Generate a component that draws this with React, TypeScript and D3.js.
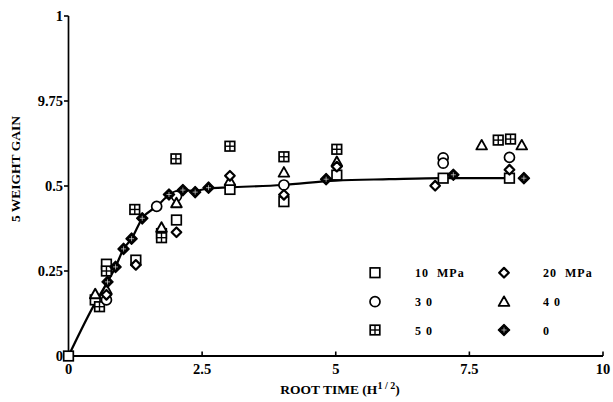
import React from "react";
import * as d3 from "d3";

const W = 613;
const H = 402;

// Y ticks (labels as printed in the reference)
const yTickValues = [0, 0.25, 0.5, 0.75, 1];
const yTickLabels = ["0", "0.25", "0.5", "9.75", "1"];
const xTickValues = [0, 2.5, 5, 7.5, 10];
const xTickLabels = ["0", "2.5", "5", "7.5", "10"];

// fitted curve
const curveX = [0, 0.53, 0.73, 0.88, 1.03, 1.18, 1.38, 1.65, 1.88, 2.14, 2.37, 2.62, 3.0, 4.0, 5.0, 6.0, 7.0, 8.15];
const curveY = [0, 0.165, 0.218, 0.262, 0.315, 0.345, 0.405, 0.44, 0.473, 0.487, 0.486, 0.493, 0.496, 0.503, 0.516, 0.52, 0.523, 0.523];

// 10 MPa (square)
const s10X = [0, 0.5, 0.71, 1.26, 1.74, 2.02, 3.02, 4.03, 5.02, 7.01, 8.25];
const s10Y = [0, 0.165, 0.27, 0.282, 0.36, 0.4, 0.49, 0.454, 0.532, 0.523, 0.523];
// 20 MPa (diamond)
const s20X = [0.71, 1.26, 2.02, 3.02, 4.03, 5.02, 6.86, 8.25];
const s20Y = [0.18, 0.268, 0.364, 0.53, 0.474, 0.557, 0.501, 0.548];
// 30 MPa (circle)
const s30X = [0.71, 1.65, 2.02, 4.03, 7.01, 7.01, 8.25];
const s30Y = [0.165, 0.44, 0.47, 0.503, 0.583, 0.567, 0.584];
// 40 MPa (triangle)
const s40X = [0.5, 0.71, 1.74, 2.02, 3.02, 4.03, 5.02, 7.73, 8.48];
const s40Y = [0.182, 0.195, 0.378, 0.45, 0.515, 0.54, 0.571, 0.62, 0.62];
// 50 MPa (grid square)
const s50X = [0.58, 0.71, 1.24, 1.74, 2.01, 3.02, 4.03, 5.02, 8.04, 8.27];
const s50Y = [0.145, 0.25, 0.431, 0.348, 0.58, 0.617, 0.586, 0.608, 0.635, 0.638];
// 0 MPa (filled crossed diamond)
const s0X = [0.73, 0.88, 1.03, 1.18, 1.38, 1.88, 2.14, 2.37, 2.62, 4.82, 7.2, 8.52];
const s0Y = [0.218, 0.262, 0.315, 0.345, 0.405, 0.475, 0.488, 0.482, 0.495, 0.52, 0.533, 0.523];

const legendLabels = ["10  MPa", "20  MPa", "3 0", "4 0", "5 0", "0"];
const legendShapes = ["square", "diamond", "circle", "triangle", "grid", "cross"];

const FONT = "'Liberation Serif', 'DejaVu Serif', serif";

function Marker({ shape, cx, cy }: { shape: string; cx: number; cy: number }) {
  const sw = 1.7;
  if (shape === "square") {
    return <rect x={cx - 4.8} y={cy - 4.8} width={9.6} height={9.6} fill="#fff" stroke="#000" strokeWidth={sw} />;
  }
  if (shape === "circle") {
    return <circle cx={cx} cy={cy} r={5} fill="#fff" stroke="#000" strokeWidth={sw} />;
  }
  if (shape === "diamond") {
    const r = 4.8;
    return (
      <path
        d={`M${cx},${cy - r}L${cx + r},${cy}L${cx},${cy + r}L${cx - r},${cy}Z`}
        fill="#fff"
        stroke="#000"
        strokeWidth={2.2}
        strokeLinejoin="round"
      />
    );
  }
  if (shape === "triangle") {
    return (
      <path
        d={`M${cx},${cy - 5.3}L${cx + 5.3},${cy + 4.2}L${cx - 5.3},${cy + 4.2}Z`}
        fill="#fff"
        stroke="#000"
        strokeWidth={1.9}
        strokeLinejoin="round"
      />
    );
  }
  if (shape === "grid") {
    return (
      <g>
        <rect x={cx - 4.8} y={cy - 4.8} width={9.6} height={9.6} fill="#fff" stroke="#000" strokeWidth={sw} />
        <line x1={cx} x2={cx} y1={cy - 4.8} y2={cy + 4.8} stroke="#000" strokeWidth={1.4} />
        <line x1={cx - 4.8} x2={cx + 4.8} y1={cy} y2={cy} stroke="#000" strokeWidth={1.4} />
      </g>
    );
  }
  // cross (filled diamond with light cross)
  const r = 5.6;
  return (
    <g>
      <path
        d={`M${cx},${cy - r}L${cx + r},${cy}L${cx},${cy + r}L${cx - r},${cy}Z`}
        fill="#000"
        stroke="#000"
        strokeWidth={1.4}
        strokeLinejoin="round"
      />
      <line x1={cx - 2.5} x2={cx + 2.5} y1={cy} y2={cy} stroke="#fff" strokeWidth={0.6} />
      <line x1={cx} x2={cx} y1={cy - 2.5} y2={cy + 2.5} stroke="#fff" strokeWidth={0.6} />
    </g>
  );
}

export default function App() {
  const x = d3.scaleLinear().domain([0, 10]).range([68.5, 603]);
  const y = d3.scaleLinear().domain([0, 1]).range([356, 16]);

  const curvePts: [number, number][] = curveX.map((v, i) => [x(v), y(curveY[i])]);
  const lineGen = d3.line().curve(d3.curveMonotoneX);
  const curvePath = lineGen(curvePts) || "";

  const series = [
    { shape: "square", xs: s10X, ys: s10Y },
    { shape: "grid", xs: s50X, ys: s50Y },
    { shape: "circle", xs: s30X, ys: s30Y },
    { shape: "triangle", xs: s40X, ys: s40Y },
    { shape: "diamond", xs: s20X, ys: s20Y },
    { shape: "cross", xs: s0X, ys: s0Y },
  ];

  const legendRowsY = [272.7, 301.7, 330];
  const legendColMarkerX = [375, 504];
  const legendColTextX = [415, 543];

  return (
    <svg
      width={W}
      height={H}
      viewBox={`0 0 ${W} ${H}`}
      style={{ position: "absolute", left: 0, top: 0, background: "#fff" }}
    >
      <rect x={0} y={0} width={W} height={H} fill="#fff" />
      {/* axes */}
      <line x1={x(0)} x2={x(0)} y1={y(0)} y2={y(1)} stroke="#000" strokeWidth={1.7} />
      <line x1={x(0)} x2={x(10)} y1={y(0)} y2={y(0)} stroke="#000" strokeWidth={1.9} />
      {yTickValues.map((v, i) => (
        <g key={"yt" + i}>
          <line x1={x(0) - 4.5} x2={x(0)} y1={y(v)} y2={y(v)} stroke="#000" strokeWidth={1.6} />
          <text
            x={63}
            y={y(v) + 5}
            textAnchor="end"
            fontFamily={FONT}
            fontWeight="bold"
            fontSize={14.5}
            fill="#000"
          >
            {yTickLabels[i]}
          </text>
        </g>
      ))}
      {xTickValues.map((v, i) => (
        <g key={"xt" + i}>
          <line x1={x(v)} x2={x(v)} y1={y(0)} y2={y(0) - 4.5} stroke="#000" strokeWidth={1.6} />
          <text
            x={x(v)}
            y={374}
            textAnchor="middle"
            fontFamily={FONT}
            fontWeight="bold"
            fontSize={14.5}
            fill="#000"
          >
            {xTickLabels[i]}
          </text>
        </g>
      ))}
      {/* axis titles */}
      <text
        transform={`translate(20,169) rotate(-90)`}
        textAnchor="middle"
        fontFamily={FONT}
        fontWeight="bold"
        fontSize={13.5}
        fill="#000"
      >
        5 WEIGHT GAIN
      </text>
      <text x={340} y={394} textAnchor="middle" fontFamily={FONT} fontWeight="bold" fontSize={13.5} fill="#000">
        ROOT TIME (H
        <tspan fontSize={10} dy={-5}>
          1 / 2
        </tspan>
        <tspan dy={5}>)</tspan>
      </text>

      {/* fitted curve */}
      <path d={curvePath} fill="none" stroke="#000" strokeWidth={2.2} />

      {/* markers */}
      {series.map((s) =>
        s.xs.map((v, i) => <Marker key={s.shape + i} shape={s.shape} cx={x(v)} cy={y(s.ys[i])} />)
      )}

      {/* legend */}
      {legendShapes.map((shape, i) => {
        const row = Math.floor(i / 2);
        const col = i % 2;
        return (
          <g key={"lg" + i}>
            <Marker shape={shape} cx={legendColMarkerX[col]} cy={legendRowsY[row]} />
            <text
              x={legendColTextX[col]}
              y={legendRowsY[row] + 4.5}
              fontFamily={FONT}
              fontWeight="bold"
              fontSize={12}
              letterSpacing={1}
              fill="#000"
              style={{ whiteSpace: "pre" }}
            >
              {legendLabels[i]}
            </text>
          </g>
        );
      })}
    </svg>
  );
}
